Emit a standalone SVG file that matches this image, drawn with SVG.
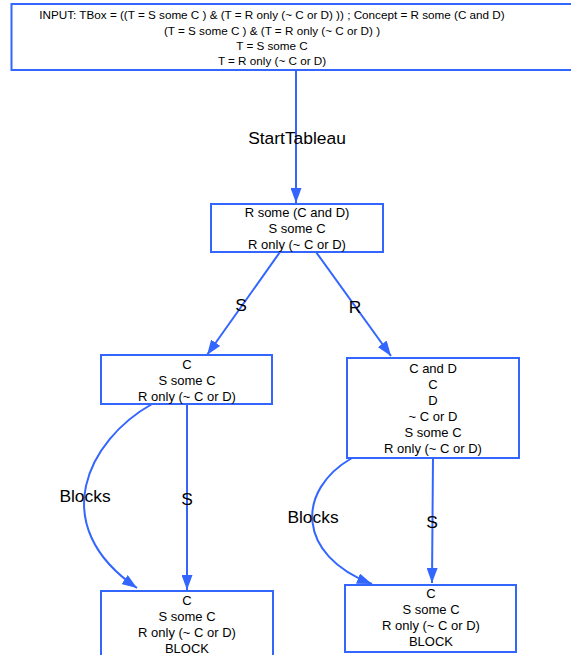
<svg xmlns="http://www.w3.org/2000/svg" width="571" height="655" viewBox="0 0 571 655">
<style>
.box{fill:#fff;stroke:#3366ff;stroke-width:2}
.t{font-family:"Liberation Sans",Arial,sans-serif;font-size:13px;fill:#000;text-anchor:middle}
.tt{font-family:"Liberation Sans",Arial,sans-serif;font-size:11.7px;fill:#000;text-anchor:middle}
.e{fill:none;stroke:#3366ff;stroke-width:2;marker-end:url(#ah)}
.l{font-family:"Liberation Sans",Arial,sans-serif;font-size:17.4px;fill:#000;text-anchor:middle}
</style>
<defs>
<marker id="ah" markerUnits="userSpaceOnUse" markerWidth="15" markerHeight="11" refX="15" refY="5.5" orient="auto">
<path d="M0,0 L15,5.5 L0,11 z" fill="#3366ff"/>
</marker>
</defs>
<rect width="571" height="655" fill="#fff"/>
<g id="edges">
<path class="e" d="M296,70 L296,203"/>
<text class="l" x="297" y="144">StartTableau</text>
<path class="e" d="M280,252 L207,355"/>
<text class="l" x="241" y="311">S</text>
<path class="e" d="M316,252 L391,356"/>
<text class="l" x="355" y="313">R</text>
<path class="e" d="M152,404 C88,440 45,525 137,588"/>
<text class="l" x="85" y="502">Blocks</text>
<path class="e" d="M187,404 L187,590"/>
<text class="l" x="187" y="505">S</text>
<path class="e" d="M352,458 C296,490 296,555 372,584"/>
<text class="l" x="313" y="523">Blocks</text>
<path class="e" d="M433,458 L432,583"/>
<text class="l" x="432" y="528">S</text>
</g>
<g id="n0">
<rect class="box" x="11.5" y="4" width="570" height="66"/>
<text class="tt" x="272" y="19">INPUT: TBox = ((T = S some C ) &amp; (T = R only (~ C or D) )) ; Concept = R some (C and D)</text>
<text class="tt" x="272" y="35">(T = S some C ) &amp; (T = R only (~ C or D) )</text>
<text class="tt" x="272" y="50">T = S some C</text>
<text class="tt" x="272" y="65">T = R only (~ C or D)</text>
</g>
<g id="n1">
<rect class="box" x="211" y="204" width="172" height="48"/>
<text class="t" x="297" y="217">R some (C and D)</text>
<text class="t" x="297" y="233">S some C</text>
<text class="t" x="297" y="249">R only (~ C or D)</text>
</g>
<g id="n2">
<rect class="box" x="101" y="355" width="171" height="49"/>
<text class="t" x="187" y="369">C</text>
<text class="t" x="187" y="385">S some C</text>
<text class="t" x="187" y="401">R only (~ C or D)</text>
</g>
<g id="n3">
<rect class="box" x="347" y="358" width="172" height="100"/>
<text class="t" x="433" y="373">C and D</text>
<text class="t" x="433" y="389">C</text>
<text class="t" x="433" y="405">D</text>
<text class="t" x="433" y="421">~ C or D</text>
<text class="t" x="433" y="437">S some C</text>
<text class="t" x="433" y="453">R only (~ C or D)</text>
</g>
<g id="n4">
<rect class="box" x="101" y="591" width="172" height="70"/>
<text class="t" x="187" y="605">C</text>
<text class="t" x="187" y="621">S some C</text>
<text class="t" x="187" y="637">R only (~ C or D)</text>
<text class="t" x="187" y="653">BLOCK</text>
</g>
<g id="n5">
<rect class="box" x="345" y="585" width="171" height="67"/>
<text class="t" x="431" y="598">C</text>
<text class="t" x="431" y="614">S some C</text>
<text class="t" x="431" y="630">R only (~ C or D)</text>
<text class="t" x="431" y="646">BLOCK</text>
</g>
</svg>
